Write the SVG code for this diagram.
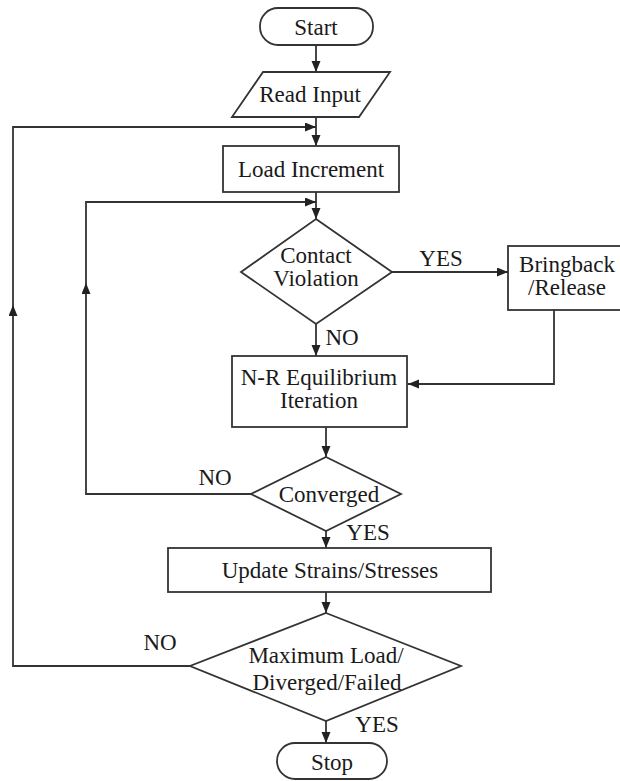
<svg xmlns="http://www.w3.org/2000/svg" width="620" height="781" viewBox="0 0 620 781">
<style>
.n{fill:#fff;stroke:#333;stroke-width:1.8}
.c{fill:none;stroke:#333;stroke-width:1.8}
text{font-family:"Liberation Serif","Times New Roman",serif;font-size:23px;fill:#1a1a1a;text-anchor:middle}
</style>
<defs>
<marker id="ah" markerUnits="userSpaceOnUse" markerWidth="12" markerHeight="10" refX="11" refY="4.5" orient="auto">
<path d="M0,0 L11,4.5 L0,9 z" fill="#222"/>
</marker>
</defs>
<rect width="620" height="781" fill="#fff"/>
<g id="connectors">
<path class="c" d="M316,45 V72" marker-end="url(#ah)"/>
<path class="c" d="M316,117 V146" marker-end="url(#ah)"/>
<path class="c" d="M190,666 H13 V305" marker-end="url(#ah)"/>
<path class="c" d="M13,305 V127 H316" marker-end="url(#ah)"/>
<path class="c" d="M316,192 V219" marker-end="url(#ah)"/>
<path class="c" d="M251,494 H86 V283" marker-end="url(#ah)"/>
<path class="c" d="M86,283 V202 H316" marker-end="url(#ah)"/>
<path class="c" d="M392,272 H508" marker-end="url(#ah)"/>
<path class="c" d="M316,324 V356" marker-end="url(#ah)"/>
<path class="c" d="M554,310 V384 H408" marker-end="url(#ah)"/>
<path class="c" d="M326,427 V457" marker-end="url(#ah)"/>
<path class="c" d="M326,531 V548" marker-end="url(#ah)"/>
<path class="c" d="M326,592 V613" marker-end="url(#ah)"/>
<path class="c" d="M326,721 V743" marker-end="url(#ah)"/>
<text x="441" y="266">YES</text>
<text x="342" y="345">NO</text>
<text x="215" y="485">NO</text>
<text x="368" y="540">YES</text>
<text x="160" y="650">NO</text>
<text x="377" y="732">YES</text>
</g>
<g id="start">
<rect class="n" x="260" y="8" width="113" height="37" rx="18"/>
<text x="316" y="35">Start</text>
</g>
<g id="read-input">
<polygon class="n" points="263,72 390,72 359,117 232,117"/>
<text x="310" y="102">Read Input</text>
</g>
<g id="load-increment">
<rect class="n" x="223" y="146" width="176" height="46"/>
<text x="311" y="177">Load Increment</text>
</g>
<g id="contact-violation">
<polygon class="n" points="316,219 392,272 316,324 241,272"/>
<text x="316" y="263">Contact<tspan x="316" y="286">Violation</tspan></text>
</g>
<g id="bringback">
<rect class="n" x="508" y="246" width="118" height="64"/>
<text x="567" y="272">Bringback<tspan x="567" y="295">/Release</tspan></text>
</g>
<g id="nr-iteration">
<rect class="n" x="232" y="356" width="175" height="71"/>
<text x="319" y="385">N-R Equilibrium<tspan x="319" y="408">Iteration</tspan></text>
</g>
<g id="converged">
<polygon class="n" points="326,457 401,494 326,531 251,494"/>
<text x="329" y="502">Converged</text>
</g>
<g id="update">
<rect class="n" x="168" y="548" width="323" height="44"/>
<text x="330" y="578">Update Strains/Stresses</text>
</g>
<g id="max-load">
<polygon class="n" points="326,613 461,666 326,721 190,666"/>
<text x="326" y="663">Maximum Load/<tspan x="327" y="690">Diverged/Failed</tspan></text>
</g>
<g id="stop">
<rect class="n" x="277" y="743" width="110" height="36" rx="18"/>
<text x="332" y="770">Stop</text>
</g>
</svg>
